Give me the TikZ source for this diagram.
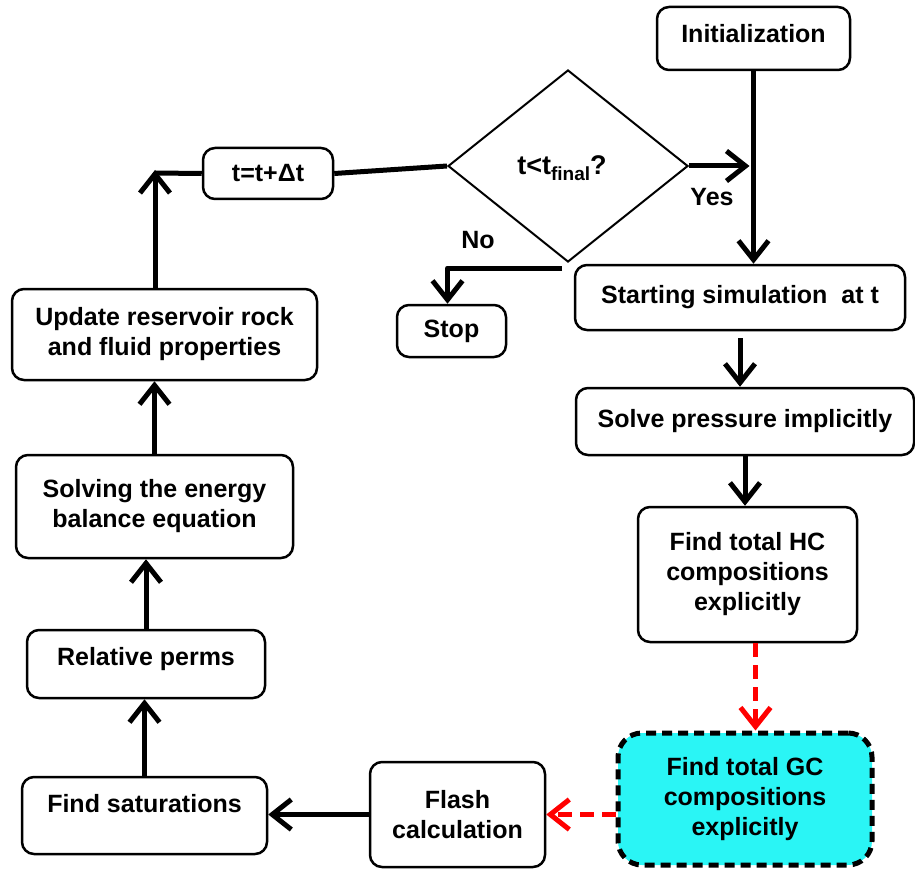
\documentclass[tikz,border=0pt]{standalone}
\usepackage{fontspec}
\setmainfont{Liberation Sans}
\usetikzlibrary{arrows.meta,shapes.geometric}
\definecolor{gcCyan}{RGB}{42,245,245}
\definecolor{gcRed}{RGB}{255,0,0}
\newcommand{\tFinal}{t<t\raisebox{-6pt}{\fontsize{19}{19}\selectfont final}?}

\begin{document}
\begin{tikzpicture}[x=1pt,y=-1pt,
  font=\fontsize{25}{30}\selectfont\bfseries,
  procBox/.style={draw,line width=2.5pt,rounded corners=12pt,align=center,inner sep=0pt},
  flowArrow/.style={line width=5pt,-{Straight Barb[length=19pt,width=30pt]},line join=round},
  flowLine/.style={line width=5pt},
  redArrow/.style={flowArrow,gcRed,dash pattern=on 14pt off 8pt}]
  \useasboundingbox (0,0) rectangle (915,869);

  % Right column
  \node[procBox,minimum width=193pt,minimum height=63pt,text depth=10pt] (init) at (753.5,38.5) {Initialization};
  \node[procBox,minimum width=330pt,minimum height=65pt] (start) at (740,297.5) {Starting simulation\ \ at t};
  \node[procBox,minimum width=338pt,minimum height=67pt] (press) at (745,421.5) {Solve pressure implicitly};
  \node[procBox,minimum width=219pt,minimum height=135pt] (hc) at (747.5,574.5) {Find total HC\\compositions\\explicitly};
  \node[procBox,fill=gcCyan,line width=5pt,dash pattern=on 10pt off 6pt,rounded corners=24pt,
    minimum width=254pt,minimum height=132pt] (gc) at (745,799) {Find total GC\\compositions\\explicitly};

  % Decision
  \node[draw,diamond,line width=2pt,inner sep=0pt,minimum width=240pt,minimum height=192pt] (dec) at (568,166) {};
  \node[font=\fontsize{27}{30}\selectfont\bfseries] (decText) at (562,168) {\tFinal};
  \node (yesLabel) at (712,197) {Yes};
  \node (noLabel) at (478,240) {No};
  \node[procBox,minimum width=109pt,minimum height=52pt] (stop) at (451.5,331) {Stop};
  \node[procBox,minimum width=130pt,minimum height=51pt] (tstep) at (268,173.5) {t=t+Δt};

  % Bottom and left column
  \node[procBox,minimum width=175pt,minimum height=105pt] (flash) at (457.5,814.5) {Flash\\calculation};
  \node[procBox,minimum width=245pt,minimum height=77pt,text depth=24pt] (sat) at (144.5,815.5) {Find saturations};
  \node[procBox,minimum width=238pt,minimum height=68pt,text depth=15pt] (relperm) at (146,664) {Relative perms};
  \node[procBox,minimum width=277pt,minimum height=103pt] (energy) at (154.5,506.5) {Solving the energy\\balance equation};
  \node[procBox,minimum width=305pt,minimum height=91pt] (update) at (164.5,334.5) {Update reservoir rock\\and fluid properties};
  \coordinate (loopCorner) at (155,173);

  % Connectors
  \draw[flowArrow] (init.south) -- (init.south |- start.north);
  \draw[flowArrow,shorten >=4pt] (dec.east) -- (dec.east -| init.south);
  \draw[flowArrow] ([xshift=-6pt,yshift=-5pt]dec.south) -| ([xshift=-4pt]stop.north);
  \draw[flowArrow,shorten <=7pt] (start.south) -- (start.south |- press.north);
  \draw[flowArrow] (press.south) -- (press.south |- hc.north);
  \draw[redArrow] ([xshift=8pt]hc.south) -- ([xshift=8pt]hc.south |- gc.north);
  \draw[redArrow] (flash.east -| gc.west) -- (flash.east);
  \draw[flowArrow] (flash.west) -- (flash.west -| sat.east);
  \draw[flowArrow] (sat.north) -- (sat.north |- relperm.south);
  \draw[flowArrow] (relperm.north) -- (relperm.north |- energy.south);
  \draw[flowArrow] (energy.north) -- (energy.north |- update.south);
  \draw[flowArrow,shorten >=-3pt] (loopCorner |- update.north) -- (loopCorner);
  \draw[flowLine] (loopCorner) -- (tstep.west);
  \draw[flowLine] (tstep.east) -- (dec.west);
\end{tikzpicture}
\end{document}
